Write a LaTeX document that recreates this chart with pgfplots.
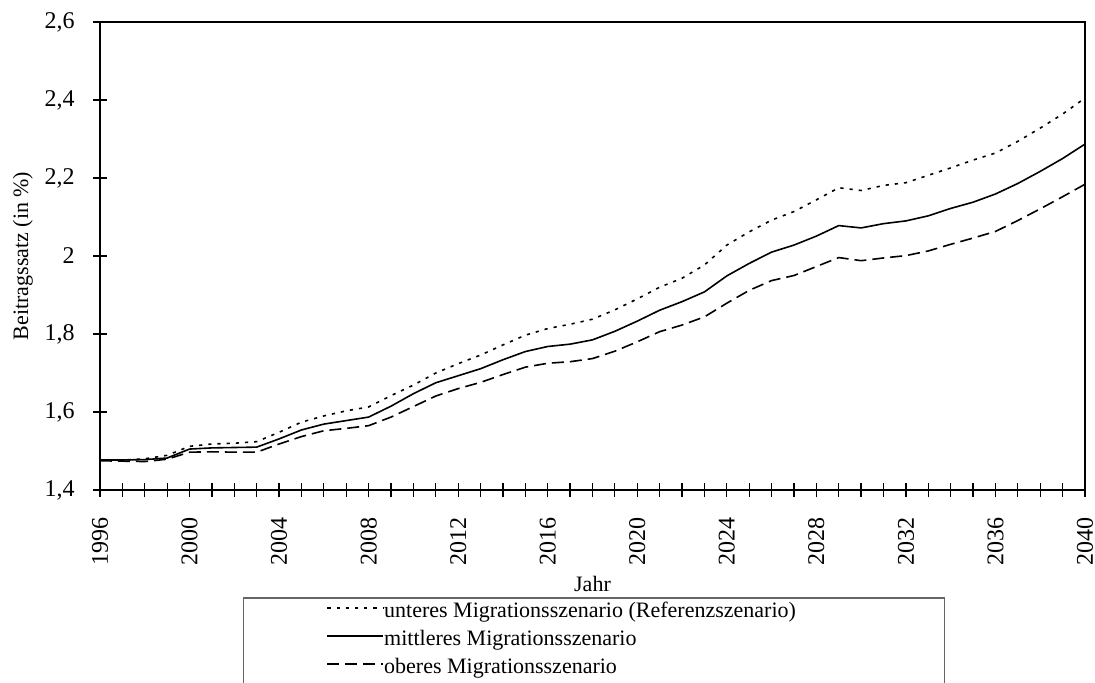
\documentclass[border=0pt]{standalone}
\usepackage{pgfplots}
\pgfplotsset{compat=1.18}
\usepackage{pgfplotstable}
\usepackage{fontspec}
\setmainfont{Liberation Serif}

\pgfplotsset{
  leglinestd/.style={legend image code/.code={
    \path (-41.5pt,0pt) (28pt,0pt);
    \draw[##1] (0pt,2.5pt) -- (28pt,2.5pt);}},
  leglinedeep/.style={legend image code/.code={
    \path (-41.5pt,-12pt) (28pt,0pt);
    \draw[##1] (0pt,2.5pt) -- (28pt,2.5pt);}},
}

\pgfplotstableread{
year unteres mittleres oberes
1996 1.477 1.477 1.475
1997 1.477 1.477 1.474
1998 1.480 1.478 1.473
1999 1.489 1.482 1.479
2000 1.512 1.505 1.497
2001 1.518 1.508 1.498
2002 1.520 1.509 1.497
2003 1.524 1.510 1.497
2004 1.548 1.531 1.518
2005 1.574 1.554 1.537
2006 1.590 1.569 1.552
2007 1.603 1.578 1.558
2008 1.613 1.587 1.565
2009 1.642 1.615 1.587
2010 1.669 1.647 1.614
2011 1.700 1.675 1.641
2012 1.724 1.693 1.660
2013 1.746 1.711 1.676
2014 1.772 1.734 1.696
2015 1.797 1.755 1.715
2016 1.814 1.768 1.725
2017 1.825 1.774 1.729
2018 1.838 1.785 1.737
2019 1.862 1.807 1.756
2020 1.890 1.833 1.780
2021 1.920 1.861 1.806
2022 1.943 1.883 1.823
2023 1.977 1.908 1.844
2024 2.028 1.949 1.879
2025 2.062 1.981 1.912
2026 2.092 2.010 1.937
2027 2.114 2.028 1.950
2028 2.144 2.051 1.973
2029 2.175 2.078 1.996
2030 2.168 2.072 1.988
2031 2.181 2.083 1.995
2032 2.188 2.090 2.001
2033 2.207 2.103 2.013
2034 2.226 2.122 2.030
2035 2.246 2.138 2.046
2036 2.264 2.159 2.063
2037 2.294 2.186 2.091
2038 2.328 2.217 2.121
2039 2.364 2.250 2.152
2040 2.405 2.287 2.184
}\datatable

\begin{document}
\begin{tikzpicture}
\begin{axis}[
  name=ax,
  scale only axis,
  width=492.5pt, height=234pt,
  xmin=1996, xmax=2040,
  ymin=1.4, ymax=2.6,
  xtick={1996,2000,...,2040},
  minor xtick={1996,...,2040},
  ytick={1.4,1.6,...,2.61},
  xtick pos=bottom, ytick pos=left,
  tick align=center,
  major tick length=7pt,
  minor tick length=7pt,
  tick style={black, line width=0.6pt},
  axis line style={black, line width=0.8pt},
  /pgf/number format/assume math mode=true,
  /pgf/number format/use comma,
  xticklabel style={font=\fontsize{12}{14}\selectfont, rotate=90, anchor=east, inner sep=0pt, /pgf/number format/1000 sep={}},
  xticklabel shift=10pt,
  yticklabel style={font=\fontsize{12}{14}\selectfont, anchor=east, inner sep=0pt},
  yticklabel shift=9pt,
  xlabel={Jahr},
  ylabel={Beitragssatz (in \%)},
  xlabel style={font=\fontsize{11}{13}\selectfont, at={(axis description cs:0.5,-0.2009)}, anchor=center},
  ylabel style={font=\fontsize{11}{13}\selectfont, at={(axis description cs:-0.0782,0.5)}, anchor=center},
  legend style={
    at={(0.1452,-0.2293)}, anchor=north west,
    draw=black!60, line width=0.6pt,
    inner xsep=0pt, inner ysep=2pt,
    font=\fontsize{11}{13}\selectfont,
    nodes={inner sep=0pt, text height=8pt, text depth=3pt},
    row sep=3pt,
    /tikz/every even column/.append style={column sep=1pt},
  },
  legend cell align=left,
  leglinestd,
]
\addplot[black, line width=0.8pt, dash pattern=on 1.6pt off 3pt] table[x=year, y=unteres] {\datatable};
\addlegendentry{\makebox[280pt][l]{unteres Migrationsszenario (Referenzszenario)}}
\addplot[black, line width=0.8pt] table[x=year, y=mittleres] {\datatable};
\addlegendentry{mittleres Migrationsszenario}
\addplot[black, line width=0.8pt, dash pattern=on 6pt off 3pt, leglinedeep] table[x=year, y=oberes] {\datatable};
\addlegendentry{oberes Migrationsszenario}
\end{axis}
\pgfresetboundingbox
\path[use as bounding box] (ax.south west) ++(-50pt,-96pt) rectangle ++(547.5pt,341pt);
\end{tikzpicture}
\end{document}
